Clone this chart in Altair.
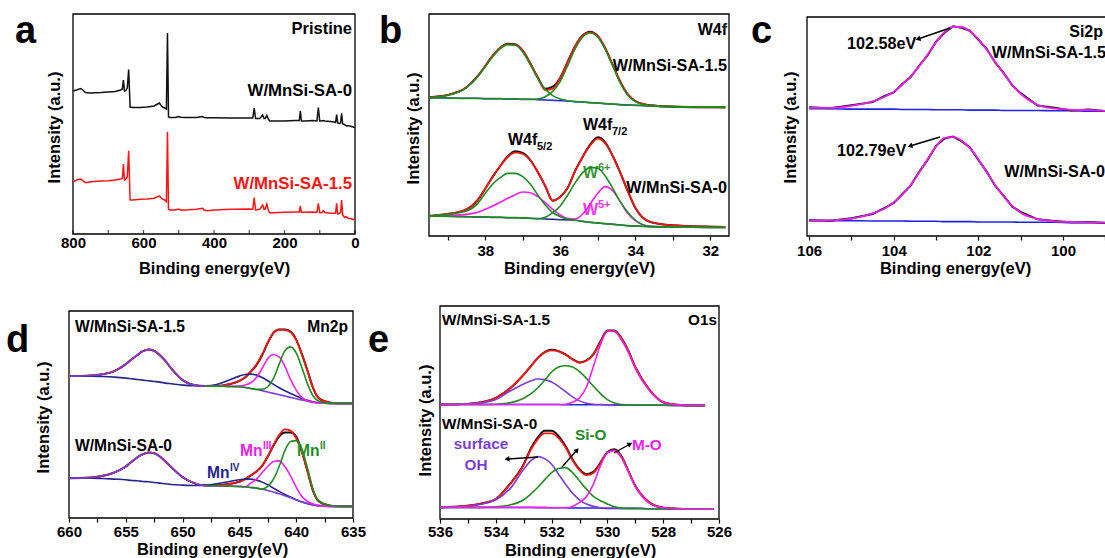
import altair as alt
import pandas as pd

FONT = "Liberation Sans"
W, H = 1105, 558
BLACK = "#111111"
RED = "#ff1414"
GREEN = "#1f8c1f"
MAGENTA = "#f020f0"
BLUE = "#2020e8"
NAVY = "#24248c"
PURPLE = "#7b3fd8"

# ---------------- (a) survey spectra ----------------
a_energy = [800, 790, 778, 772, 765, 750, 720, 700, 680, 665, 660, 657, 654, 650, 646, 642, 638, 630, 610, 590,
            570, 560, 555, 548, 540, 535, 532, 529, 525, 510, 500, 495, 480, 450, 432, 428, 420, 400, 350, 300,
            290, 286, 282, 270, 262, 258, 255, 250, 246, 242, 230, 200, 170, 158, 155, 152, 140, 120, 108, 104,
            100, 95, 90, 85, 70, 60, 55, 52, 49, 44, 41, 38, 35, 30, 25, 20, 10, 0]
a_sa0 = [143, 144, 145.5, 144, 141.5, 141, 141.5, 142, 142.5, 144, 145, 154, 143, 143.5, 146, 164.5, 127, 126.5, 126.5, 127,
         128, 130, 131, 127.5, 126, 125, 201, 117, 116.5, 116.5, 117.5, 116.8, 116.5, 116.5, 117.5, 116.5, 116.3, 116.3, 116, 116,
         116, 126, 115.5, 115.5, 119, 115.5, 115.5, 118.5, 115, 113, 113, 113, 113.5, 113.5, 123, 113, 113, 113.5, 113, 126.5,
         113, 113, 113.5, 113, 112.5, 112, 111.5, 119.5, 111, 110.5, 111, 120.7, 110, 109.5, 108, 108.5, 107.5, 106.5]
a_sa15 = [52.3, 54, 55, 53.3, 51.3, 52.3, 53, 53.3, 54, 55, 55.7, 70, 54, 54.7, 57.3, 83.3, 34, 34, 34.7, 35,
          35.7, 37.3, 38, 35.3, 34, 32.3, 102.3, 24.7, 24, 24, 25, 24, 24, 24.7, 25.7, 24, 23.3, 24, 24.7, 25,
          24.7, 36.3, 24, 24.7, 29, 24.7, 24.7, 30, 24, 21.3, 21.3, 21.7, 22, 22, 28, 21.7, 21.7, 22, 21.7, 30.7,
          21.3, 21.3, 23.3, 21.5, 20.7, 20.7, 20.7, 30.7, 20, 20.7, 21.3, 34, 19, 16.7, 17.3, 15.7, 15.3, 14]
a_ticks = [800, 700, 600, 500, 400, 300, 200, 100, 0]

# ---------------- (b) W4f ----------------
b_energy = [39.5, 39.0, 38.5, 38.2, 38.0, 37.8, 37.6, 37.4, 37.2, 37.0, 36.8, 36.6, 36.4, 36.2, 36.0, 35.8, 35.6,
            35.4, 35.2, 35.0, 34.8, 34.6, 34.4, 34.2, 34.0, 33.6, 33.0, 32.0, 31.6]
b15_raw = [416, 423, 446, 480, 510, 541, 565, 577, 575, 556, 518, 476, 442, 448, 475, 523, 570, 602, 613, 600, 563,
           513, 463, 425, 405, 392, 388, 386, 386]
b15_fit = [416, 423, 446, 480, 510, 541, 565, 575, 574, 556, 518, 476, 438, 442, 475, 523, 570, 602, 611, 600, 563,
           513, 463, 425, 405, 392, 388, 386, 386]
b15_w6a = [415, 422, 445, 478, 508, 538, 562, 574, 572, 552, 514, 472, 440, 421, 411, 406, 403, 402, 400, 399, 397,
           396, 394, 393, 392, 390, 388, 387, 386]
b15_w6b = [415, 414, 413, 413, 412, 412, 412, 411, 411, 410, 410, 411, 418, 434, 464, 512, 562, 597, 609, 597, 560,
           510, 459, 422, 403, 391, 388, 387, 386]
b15_bg = [415, 414, 413, 413, 412, 412, 412, 411, 411, 410, 410, 409, 408, 407, 406, 405, 403, 402, 400, 399, 397,
          396, 394, 393, 392, 390, 388, 387, 386]
b0_raw = [60, 66, 80, 108, 142, 178, 210, 239, 254, 249, 228, 192, 150, 106, 118, 145, 196, 238, 275, 296, 281,
          240, 190, 135, 85, 42, 32, 28, 27]
b0_fit = [60, 66, 80, 108, 142, 178, 210, 237, 250, 246, 228, 192, 150, 106, 118, 145, 196, 238, 272, 292, 278,
          240, 190, 135, 85, 42, 32, 28, 27]
b0_w6a = [60, 65, 75, 98, 128, 156, 175, 188, 188, 178, 156, 123, 93, 70, 58, 51, 47, 44, 41, 39, 37,
          35, 33, 31, 30, 28, 27, 26, 26]
b0_w6b = [60, 59, 58, 57, 57, 56, 56, 55, 55, 54, 53, 52, 56, 70, 90, 123, 160, 190, 206, 203, 180,
          143, 103, 71, 48, 29, 27, 26, 26]
b0_w5 = [60, 62, 65, 71, 80, 90, 101, 113, 124, 132, 130, 118, 100, 80, 63, 52, 51, 66, 96, 128, 148,
         136, 103, 68, 46, 29, 27, 26, 26]
b0_bg = [60, 59, 58, 57, 57, 56, 56, 55, 55, 54, 53, 52, 51, 50, 49, 48, 47, 44, 41, 39, 37,
         35, 33, 31, 30, 28, 27, 26, 26]
b_ticks = [39, 38, 37, 36, 35, 34, 33, 32]

# ---------------- (c) Si2p ----------------
c_energy = [106.0, 105.5, 105.0, 104.5, 104.2, 104.0, 103.8, 103.6, 103.4, 103.2, 103.0, 102.8, 102.6, 102.4, 102.2,
            102.0, 101.8, 101.6, 101.4, 101.2, 101.0, 100.6, 100.2, 99.8, 99.4, 99.0]
c15_fit = [384, 384, 390, 403, 418, 432, 453, 478, 508, 543, 580, 611, 626, 626, 613, 590, 558, 521, 486, 453, 426,
           393, 382, 378, 377, 375]
c15_raw = [386, 383, 392, 401, 420, 430, 455, 476, 510, 541, 582, 609, 628, 624, 615, 588, 560, 519, 488, 451, 428,
           391, 384, 376, 379, 374]
c15_bg = [381, 381, 380, 380, 380, 380, 379, 379, 379, 379, 378, 378, 378, 378, 377, 377, 377, 377, 376, 376, 376,
          376, 375, 375, 374, 374]
c0_fit = [46, 47, 52, 68, 83, 101, 123, 153, 190, 230, 268, 294, 296, 286, 263, 230, 190, 152, 118, 90, 70,
          51, 44, 42, 41, 40]
c0_raw = [47, 46, 53, 66, 85, 99, 125, 151, 192, 228, 270, 292, 298, 284, 265, 228, 192, 150, 120, 88, 72,
          50, 45, 41, 42, 39]
c0_bg = [46, 46, 46, 45, 45, 45, 45, 44, 44, 44, 44, 43, 43, 43, 43, 42, 42, 42, 42, 42, 41,
         41, 41, 40, 40, 40]
c_ticks = [106, 105, 104, 103, 102, 101, 100, 99]

# ---------------- (d) Mn2p ----------------
d_energy = [660, 658, 657, 656, 655, 654.5, 654, 653.5, 653, 652.5, 652, 651.5, 651, 650, 649, 648, 647, 646, 645,
            644.5, 644, 643.5, 643, 642.5, 642, 641.5, 641, 640.5, 640, 639.5, 639, 638.5, 638, 637, 636, 635]
N = None
d15_raw = [427, 429, 433, 442, 463, 477, 490, 502, 507, 503, 490, 472, 450, 415, 400, 397, 397, 402, 413,
           423, 440, 460, 490, 527, 557, 567, 567, 561, 537, 493, 443, 390, 360, 347, 345, 345]
d15_fit = [427, 429, 433, 442, 463, 477, 490, 502, 507, 503, 490, 472, 450, 415, 400, 397, 397, 402, 413,
           424, 441, 462, 492, 529, 558, 567, 566, 560, 536, 492, 442, 390, 360, 347, 345, 345]
d15_p12 = [427, 429, 433, 442, 463, 477, 490, 502, 507, 503, 490, 472, 450, 415, 400, 397, 397, 396, 395,
           393, 390, 387, 383, 379, 375, 371, 367, 363, 359, 355, 352, 349, 347, 345, 345, 345]
d15_mn4 = [427, 427, 426, 424, 421, 419, 417, 415, 413, 411, 409, 406, 404, 400, 398, 398, 402, 414, 427,
           432, 433, 430, 423, 413, 402, 392, 383, 375, 367, 360, 354, 349, 346, 345, 345, 345]
d15_mn3 = [N, N, N, N, N, N, N, N, N, N, N, N, N, N, N, 397, 397, 396, 397,
           400, 407, 423, 450, 480, 492, 485, 457, 417, 385, 363, 352, 348, 346, 345, 345, 345]
d15_mn2 = [N, N, N, N, N, N, N, N, N, N, N, N, N, N, N, 397, 397, 396, 395,
           393, 390, 387, 387, 395, 420, 463, 503, 515, 497, 453, 403, 367, 351, 345, 345, 345]
d0_raw = [120, 122, 127, 137, 155, 169, 182, 192, 197, 195, 185, 170, 153, 123, 105, 98, 98, 102, 109,
          117, 128, 140, 157, 185, 218, 245, 257, 257, 245, 200, 140, 80, 50, 37, 35, 35]
d0_fit = [120, 122, 127, 137, 155, 169, 182, 192, 197, 195, 185, 170, 153, 123, 105, 98, 98, 102, 109,
          117, 128, 140, 157, 186, 220, 250, 267, 263, 240, 198, 140, 80, 50, 37, 35, 35]
d0_p12 = [120, 122, 127, 137, 155, 169, 182, 192, 197, 195, 185, 170, 153, 123, 105, 97, 97, 96, 95,
          94, 92, 90, 87, 83, 78, 73, 67, 61, 55, 49, 44, 40, 37, 35, 35, 35]
d0_mn4 = [120, 120, 119, 117, 115, 113, 112, 110, 109, 107, 105, 103, 101, 99, 98, 99, 103, 109, 115,
          117, 117, 114, 108, 100, 90, 80, 71, 63, 55, 48, 43, 39, 36, 35, 35, 35]
d0_mn3 = [N, N, N, N, N, N, N, N, N, N, N, N, N, N, N, 97, 97, 96, 95,
          94, 105, 117, 137, 155, 170, 172, 155, 127, 93, 65, 50, 42, 38, 35, 35, 35]
d0_mn2 = [N, N, N, N, N, N, N, N, N, N, N, N, N, N, N, 97, 97, 96, 95,
          94, 92, 90, 87, 95, 117, 155, 203, 230, 233, 207, 150, 85, 50, 37, 35, 35]
d_ticks = [660, 657.5, 655, 652.5, 650, 647.5, 645, 642.5, 640, 637.5, 635]

# ---------------- (e) O1s ----------------
e_energy = [536, 535, 534.5, 534, 533.5, 533, 532.75, 532.5, 532.25, 532, 531.75, 531.5, 531.25, 531, 530.75,
            530.5, 530.25, 530, 529.75, 529.5, 529.25, 529, 528.5, 528, 527.5, 527, 526.5, 526.2]
e15_raw = [345, 347, 352, 365, 393, 435, 460, 485, 503, 510, 506, 496, 482, 472, 478, 497, 535, 568, 568, 545,
           507, 458, 390, 352, 344, 342, 342, N]
e15_fit = [345, 347, 352, 365, 393, 435, 460, 485, 502, 508, 505, 495, 481, 471, 477, 496, 533, 566, 566, 544,
           506, 458, 390, 352, 344, 342, 342, N]
e15_oh = [345, 347, 350, 360, 385, 407, 416, 422, 420, 413, 400, 384, 368, 356, 349, 346, 345, 344, 344, 344,
          343, 343, 343, 343, 342, 342, 342, N]
e15_sio = [345, 345, 345, 346, 350, 364, 377, 395, 418, 443, 458, 462, 458, 444, 424, 400, 378, 360, 350, 345,
           343, 343, 343, 343, 342, 342, 342, N]
e15_mo = [345, 345, 345, 345, 345, 345, 345, 345, 345, 345, 345, 346, 352, 365, 398, 460, 525, 566, 565, 540,
          502, 454, 388, 352, 344, 342, 342, N]
e15_bg = [345, 345, 345, 345, 345, 345, 345, 345, 345, 345, 345, 344, 344, 344, 344, 344, 344, 344, 343, 343,
          343, 343, 343, 343, 342, 342, 342, N]
e0_raw = [35, 40, 47, 60, 105, 165, 212, 245, 266, 266, 250, 220, 180, 150, 135, 142, 170, 202, 210, 190,
          145, 100, 50, 34, 31, 30, 30, 30]
e0_fit = [35, 40, 47, 60, 104, 163, 208, 240, 258, 258, 244, 216, 177, 147, 132, 139, 168, 200, 207, 188,
          144, 99, 50, 34, 31, 30, 30, 30]
e0_oh = [35, 38, 45, 58, 90, 150, 175, 188, 182, 165, 135, 105, 78, 58, 45, 38, 34, 33, 33, 32,
         32, 32, 31, 31, 30, 30, 30, 30]
e0_sio = [35, 35, 35, 37, 42, 58, 75, 95, 118, 140, 152, 155, 140, 115, 90, 68, 55, 45, 37, 33,
          32, 32, 31, 31, 30, 30, 30, 30]
e0_mo = [35, 35, 35, 35, 35, 35, 35, 35, 35, 34, 34, 34, 38, 50, 68, 105, 160, 200, 206, 185,
         142, 98, 48, 34, 31, 30, 30, 30]
e0_bg = [35, 35, 35, 35, 35, 35, 35, 34, 34, 34, 34, 34, 33, 33, 33, 33, 33, 32, 32, 32,
         32, 32, 31, 31, 30, 30, 30, 30]
e_ticks = [536, 535, 534, 533, 532, 531, 530, 529, 528, 527, 526]


# ---------------- helpers ----------------
def scales(xdom, xr, ydom, yr):
    return (alt.Scale(domain=xdom, range=xr, nice=False, zero=False),
            alt.Scale(domain=ydom, range=yr, nice=False, zero=False))


def x_axis(bottom, values, every, title_x, title_dy, tick=4, pad=4.0, ticks_on=True):
    return alt.Axis(orient="bottom", offset=bottom - H, values=values,
                    labelExpr="datum.value %% %s == 0 ? datum.label : ''" % every,
                    labelFlush=False, labelOverlap=False, labelFont=FONT, labelFontSize=15,
                    labelFontWeight="bold", labelColor="black", labelPadding=pad,
                    ticks=ticks_on, tickSize=tick if ticks_on else 0, tickColor="black", tickWidth=1.2,
                    domain=False, grid=False, title="Binding energy(eV)", titleX=title_x, titleY=title_dy,
                    titleAlign="center", titleBaseline="alphabetic", titleAngle=0, titleFont=FONT,
                    titleFontSize=16.5, titleFontWeight="bold", titleColor="black")


def y_axis(left, title_dx, title_y):
    return alt.Axis(orient="left", offset=-left, labels=False, ticks=False, domain=False, grid=False,
                    title="Intensity (a.u.)", titleX=title_dx, titleY=title_y, titleAngle=270,
                    titleAlign="center", titleBaseline="alphabetic", titleFont=FONT, titleFontSize=16.5,
                    titleFontWeight="bold", titleColor="black")


def curve(E, vals, color, xs, ys, xa, ya, width=1.7, interp="monotone"):
    df = pd.DataFrame({"E": E, "I": vals})
    return alt.Chart(df).mark_line(color=color, strokeWidth=width, interpolate=interp).encode(
        x=alt.X("E:Q", scale=xs, axis=xa), y=alt.Y("I:Q", scale=ys, axis=ya),
        order=alt.Order("E:Q", sort="descending"))


def frame(xdom, ydom, xs, ys, xa, ya):
    df = pd.DataFrame({"x0": [xdom[0]], "x1": [xdom[1]], "y0": [ydom[0]], "y1": [ydom[1]]})
    return alt.Chart(df).mark_rect(fillOpacity=0, stroke="black", strokeWidth=1.3).encode(
        x=alt.X("x0:Q", scale=xs, axis=xa), x2=alt.X2("x1"),
        y=alt.Y("y0:Q", scale=ys, axis=ya), y2=alt.Y2("y1"))


def label(txt, x, y, size, color="black", align="left", opacity=1.0):
    return alt.Chart(pd.DataFrame({"t": [txt]})).mark_text(
        align=align, baseline="alphabetic", font=FONT, fontSize=size, fontWeight="bold",
        color=color, opacity=opacity).encode(x=alt.value(x), y=alt.value(y), text="t:N")


def arrow(x0, y0, x1, y1, angle, color="black"):
    d = pd.DataFrame({"a": [0]})
    line = alt.Chart(d).mark_rule(color=color, strokeWidth=1.4).encode(
        x=alt.value(x0), y=alt.value(y0), x2=alt.value(x1), y2=alt.value(y1))
    head = alt.Chart(d).mark_point(shape="triangle-right", filled=True, size=32, color=color,
                                   opacity=1, angle=angle).encode(x=alt.value(x1), y=alt.value(y1))
    return [line, head]


# ---------------- panel a ----------------
xs, ys = scales([800, 0], [73, 355], [0, 220], [234, 14])
xa = x_axis(234, [800, 600, 400, 200, 0], 200, 214, 39, pad=1, ticks_on=False)
ya = y_axis(73, -14, 127)
tick_df = pd.DataFrame({"t": a_ticks, "b": [0] * len(a_ticks)})
a_tick_layer = alt.Chart(tick_df).mark_tick(orient="vertical", size=4, thickness=1.2, color="black",
                                            yOffset=-2).encode(
    x=alt.X("t:Q", scale=xs, axis=xa), y=alt.Y("b:Q", scale=ys, axis=ya))
panel_a = alt.layer(
    frame([800, 0], [0, 220], xs, ys, xa, ya), a_tick_layer,
    curve(a_energy, a_sa0, BLACK, xs, ys, xa, ya, 1.5, "linear"),
    curve(a_energy, a_sa15, RED, xs, ys, xa, ya, 1.5, "linear"),
    label("a", 15, 43, 38),
    label("Pristine", 352, 34, 16.5, align="right"),
    label("W/MnSi-SA-0", 352, 96, 16.8, align="right"),
    label("W/MnSi-SA-1.5", 352, 189, 16.8, color=RED, align="right"),
)

# ---------------- panel b ----------------
xs, ys = scales([39.5, 31.5], [429, 729], [0, 666], [236, 14])
xa = x_axis(236, b_ticks, 2, 579, 37, pad=3.5)
ya = y_axis(429, -11, 128)
panel_b = alt.layer(
    frame([39.5, 31.5], [0, 666], xs, ys, xa, ya),
    curve(b_energy, b15_bg, BLUE, xs, ys, xa, ya, 1.5),
    curve(b_energy, b0_bg, NAVY, xs, ys, xa, ya, 1.5),
    curve(b_energy, b15_raw, BLACK, xs, ys, xa, ya, 2.0),
    curve(b_energy, b15_fit, RED, xs, ys, xa, ya, 1.8),
    curve(b_energy, b0_raw, BLACK, xs, ys, xa, ya, 2.0),
    curve(b_energy, b0_fit, RED, xs, ys, xa, ya, 1.8),
    curve(b_energy, b0_w5, MAGENTA, xs, ys, xa, ya, 1.6),
    curve(b_energy, b15_w6a, GREEN, xs, ys, xa, ya, 1.6),
    curve(b_energy, b15_w6b, GREEN, xs, ys, xa, ya, 1.6),
    curve(b_energy, b0_w6a, GREEN, xs, ys, xa, ya, 1.6),
    curve(b_energy, b0_w6b, GREEN, xs, ys, xa, ya, 1.6),
    label("b", 379, 43, 38),
    label("W4f", 727, 35, 16, align="right"),
    label("W/MnSi-SA-1.5", 727, 71, 16.2, align="right"),
    label("W4f", 508, 145, 16),
    label("5/2", 537, 150, 11),
    label("W4f", 583, 130, 16),
    label("7/2", 612, 135, 11),
    label("W", 583, 178, 16, color=GREEN, opacity=0.9),
    label("6+", 598, 171, 11, color=GREEN, opacity=0.9),
    label("W/MnSi-SA-0", 727, 193, 16.2, align="right"),
    label("W", 583, 215, 16, color=MAGENTA, opacity=0.9),
    label("5+", 598, 208, 11, color=MAGENTA, opacity=0.9),
)

# ---------------- panel c ----------------
xs, ys = scales([106.05, 98.96], [807, 1107], [0, 656], [236, 17])
xa = x_axis(236, c_ticks, 2, 955, 37, pad=3)
ya = y_axis(807, -12, 127)
panel_c = alt.layer(
    frame([106.05, 98.96], [0, 656], xs, ys, xa, ya),
    curve(c_energy, c15_bg, BLUE, xs, ys, xa, ya, 1.6),
    curve(c_energy, c0_bg, BLUE, xs, ys, xa, ya, 1.6),
    curve(c_energy, c15_raw, BLACK, xs, ys, xa, ya, 2.0, "linear"),
    curve(c_energy, c0_raw, BLACK, xs, ys, xa, ya, 2.0, "linear"),
    curve(c_energy, c15_fit, MAGENTA, xs, ys, xa, ya, 1.8),
    curve(c_energy, c0_fit, MAGENTA, xs, ys, xa, ya, 1.8),
    label("c", 751, 43, 38),
    label("Si2p", 1103, 37, 16, align="right"),
    label("W/MnSi-SA-1.5", 1106, 58, 16.2, align="right"),
    label("102.58eV", 847, 49, 16.2),
    label("102.79eV", 837, 156, 16.2),
    label("W/MnSi-SA-0", 1105, 177, 16.2, align="right"),
    *arrow(950, 28, 918, 39, 161.7),
    *arrow(940, 137, 910, 146, 163.5),
)

# ---------------- panel d ----------------
xs, ys = scales([660, 635], [69, 353], [0, 623], [518, 311])
xa = x_axis(518, d_ticks, 5, 212, 36, pad=2)
ya = y_axis(69, -21, 417)
panel_d = alt.layer(
    frame([660, 635], [0, 623], xs, ys, xa, ya),
    curve(d_energy, d15_raw, BLACK, xs, ys, xa, ya, 2.0),
    curve(d_energy, d15_fit, RED, xs, ys, xa, ya, 1.8),
    curve(d_energy, d0_raw, BLACK, xs, ys, xa, ya, 2.0),
    curve(d_energy, d0_fit, RED, xs, ys, xa, ya, 1.8),
    curve(d_energy, d15_mn4, NAVY, xs, ys, xa, ya, 1.6),
    curve(d_energy, d0_mn4, NAVY, xs, ys, xa, ya, 1.6),
    curve(d_energy, d15_p12, PURPLE, xs, ys, xa, ya, 1.6),
    curve(d_energy, d0_p12, PURPLE, xs, ys, xa, ya, 1.6),
    curve(d_energy, d15_mn3, MAGENTA, xs, ys, xa, ya, 1.6),
    curve(d_energy, d0_mn3, MAGENTA, xs, ys, xa, ya, 1.6),
    curve(d_energy, d15_mn2, GREEN, xs, ys, xa, ya, 1.6),
    curve(d_energy, d0_mn2, GREEN, xs, ys, xa, ya, 1.6),
    label("d", 6, 352, 38),
    label("W/MnSi-SA-1.5", 75, 332, 15.6),
    label("Mn2p", 348, 332, 15.6, align="right"),
    label("W/MnSi-SA-0", 75, 451, 15.6),
    label("Mn", 240, 456, 15.6, color=MAGENTA),
    label("III", 263, 449, 10, color=MAGENTA),
    label("Mn", 297, 456, 15.6, color=GREEN),
    label("II", 320, 449, 10, color=GREEN),
    label("Mn", 207, 478, 15.6, color=NAVY),
    label("IV", 230, 471, 10, color=NAVY),
)

# ---------------- panel e ----------------
xs, ys = scales([536, 526], [440, 719], [0, 642], [519, 306])
xa = x_axis(519, e_ticks, 2, 580, 36, pad=1.5)
ya = y_axis(440, -10, 420)
panel_e = alt.layer(
    frame([536, 526], [0, 642], xs, ys, xa, ya),
    curve(e_energy, e15_bg, BLUE, xs, ys, xa, ya, 1.5),
    curve(e_energy, e0_bg, BLUE, xs, ys, xa, ya, 1.5),
    curve(e_energy, e15_raw, BLACK, xs, ys, xa, ya, 2.0),
    curve(e_energy, e15_fit, RED, xs, ys, xa, ya, 1.8),
    curve(e_energy, e0_raw, BLACK, xs, ys, xa, ya, 2.0),
    curve(e_energy, e0_fit, RED, xs, ys, xa, ya, 1.8),
    curve(e_energy, e15_oh, PURPLE, xs, ys, xa, ya, 1.6),
    curve(e_energy, e0_oh, PURPLE, xs, ys, xa, ya, 1.6),
    curve(e_energy, e15_sio, GREEN, xs, ys, xa, ya, 1.6),
    curve(e_energy, e0_sio, GREEN, xs, ys, xa, ya, 1.6),
    curve(e_energy, e15_mo, MAGENTA, xs, ys, xa, ya, 1.6),
    curve(e_energy, e0_mo, MAGENTA, xs, ys, xa, ya, 1.6),
    label("e", 368, 352, 38),
    label("W/MnSi-SA-1.5", 442, 325, 15.3),
    label("O1s", 717, 325, 15.3, align="right"),
    label("W/MnSi-SA-0", 442, 429, 15.3),
    label("surface", 481, 449, 15.3, color=PURPLE, align="center"),
    label("OH", 476, 470, 15.3, color=PURPLE, align="center"),
    label("Si-O", 575, 440, 15.3, color=GREEN),
    label("M-O", 632, 450, 15.3, color=MAGENTA),
    *arrow(538, 457, 507, 459, 176.4),
    *arrow(562, 467, 577, 450, 310.8),
    *arrow(614, 453, 630, 444, 331.5),
)

chart = alt.layer(panel_a, panel_b, panel_c, panel_d, panel_e).resolve_scale(
    x="independent", y="independent"
).properties(
    width=W, height=H, autosize=alt.AutoSizeParams(type="none"), padding=0
).configure_view(stroke=None)

chart.save("out.html", embed_options={"renderer": "svg", "actions": False})
